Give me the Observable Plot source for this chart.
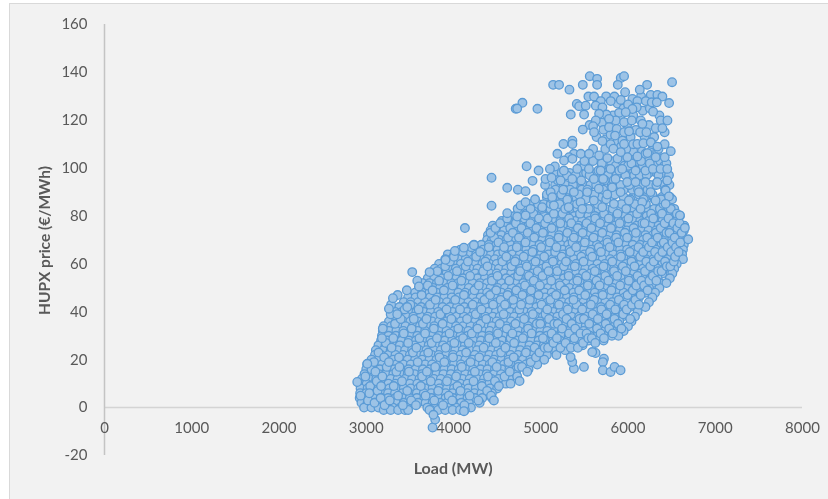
<!DOCTYPE html>
<html><head><meta charset="utf-8">
<script src="https://cdn.jsdelivr.net/npm/d3@7"></script>
<script src="https://cdn.jsdelivr.net/npm/@observablehq/plot@0.6"></script>
<style>
html,body{margin:0;padding:0;background:#fff;width:828px;height:499px;overflow:hidden}
#panel{position:absolute;left:9px;top:3px;width:819px;height:496px;background:#f2f2f2;border-left:1.5px solid #d9d9d9;border-top:1.5px solid #d9d9d9;box-sizing:border-box}
#chart{position:absolute;left:0;top:0}
svg{background:transparent!important;filter:blur(0.45px)}
</style></head><body><div id="panel"></div><div id="chart"></div>
<script>
const xTickValues=[0,1000,2000,3000,4000,5000,6000,7000,8000];
const yTickValues=[-20,0,20,40,60,80,100,120,140,160];

// Scattered outer points read one by one [load, price]
const outlierLoads=[5142,5210,5329,5482,5562,5646,5646,5917,5955,5883,6219,6135,6505,5967,5546,5611,5844,6261,6337,6394,5802,5917,6051,6108,6204,6272,6330,6471,5688,5413,5440,5516,5631,5707,6001,6100,6051,5344,5497,5753,5898,5974,6288,5669,5631,5860,5955,6043,6146,6375,6452,5783,5482,5600,5611,5718,5783,5871,5955,6012,6139,6211,6318,6394,6165,5852,5707,5260,5363,5363,5936,6108,6177,6261,6337,5833,5955,5191,5325,5459,5554,5669,5764,5993,6108,6223,6318,6421,6490,5917,5267,5363,4790,4713,4730,4962,4838,4975,5162,5105,5265,5418,5552,5686,5800,5934,6087,6285,6373,6450,4906,5055,5124,5227,5361,5464,5609,5716,5857,5991,6087,6201,6335,6450,4436,4616,4738,4826,5113,5258,5380,5533,5666,5819,5915,6125,6259,6431,5132,5304,5762,5456,5609,5839,6010,6163,6316,6469,4436,4769,4826,4883,5017,5151,5320,5476,5705,6144,6431,4616,4730,4826,3527,3726,3306,3260,4131,4234,3604,3909,4016,4119,6690,6652,6595,5380,5495,5361,5342,5628,5590,5724,5712,5712,5800,5846,5915,4654,4757,4463,3760,3790,3770,2897,2935,3012,4120];
const outlierPrices=[134.8,134.8,132.8,134.8,138.4,137.3,134.8,137.7,138.4,134.8,134.8,132.8,135.9,131.7,129.9,129.9,129.9,130.6,130.6,129.9,128,128.5,128.9,128,128,127.5,127.5,127.2,128,126.8,125.9,126.1,126.1,125.4,126.6,125.4,124.7,122.4,122.4,122.4,123.1,123.4,123.6,122.7,119.9,119.9,119.2,119.9,119.9,119.9,119.9,120.6,116.1,117.5,115,116,117.1,116.4,115,115.4,115,115,116.7,116.7,118.5,113.6,111.3,110.1,111.5,110.1,111.5,110.1,110.4,110.8,109,108.1,110.1,106,104.6,106,106,105.3,104.2,104.6,104.9,106.3,104.6,104.6,107.1,106.7,103.2,103.9,127.3,124.8,124.9,124.8,100.8,99,100.7,99.7,99,99.7,99.7,99,99.7,99.7,99,99.7,99.7,99.7,94.7,95.5,96,94.9,95.5,94.9,95.5,95.5,95.5,94.2,94.2,94.2,94.2,94.9,96,91.8,91,90.4,90,91,90,90,91.4,92,90,90,90,90.7,87.9,86.8,89,85.8,86.5,85.1,86.5,85.8,86.5,88.2,84.3,84.4,85.8,83,83.7,84.4,83.7,83,83.7,83,85.1,81.2,79.8,80.3,56.6,56.6,45.7,41.3,75,67.8,50.6,61.7,65.4,66.8,70.3,75.1,80.3,16.2,17,19,21.1,22.8,23.2,20.4,19,15.6,14.9,17,15.6,10,11.1,3,-8.3,-5,-3,10.7,5,18.3,-1.5];

// Dense body of the cloud, one list of loads for each price band
const bandPrices=[98,93,88,83,80,78,76,74,72,70,68,66,64,62,60,58,56,54,52,50,48,46,44,42,40,38,36,34,32,30,28,26,24,22,20,18,16,14,12,10,8,6,4,2,0,-1];
const bandLoads=[
[5150,5240,5330,5440,5520,5640,5740,5880,5960,6060,6130,6240,6330,6420],
[5050,5165,5280,5390,5500,5570,5680,5770,5890,6040,6150,6230,6300,6400,6475],
[5070,5180,5250,5370,5490,5580,5700,5810,5950,6060,6200,6290,6390,6480],
[4770,4830,4900,4975,5050,5110,5195,5270,5350,5420,5505,5590,5660,5745,5830,5905,5990,6060,6140,6225,6300,6380,6470,6530],
[4625,4700,4790,4880,4960,5035,5130,5205,5290,5385,5450,5545,5620,5710,5800,5870,5965,6040,6130,6215,6290,6385,6460,6540,6595],
[4555,4640,4720,4810,4885,4980,5060,5140,5225,5300,5395,5475,5560,5640,5725,5815,5890,5975,6065,6140,6235,6310,6395,6480,6550],
[4450,4535,4610,4690,4775,4860,4945,5020,5105,5190,5265,5350,5435,5515,5600,5680,5770,5850,5935,6010,6100,6185,6265,6350,6430,6520,6600,6645],
[4425,4490,4580,4660,4745,4825,4910,4995,5075,5155,5240,5325,5405,5490,5575,5655,5735,5820,5905,5985,6070,6150,6235,6320,6400,6485,6570,6640],
[4395,4470,4550,4635,4715,4800,4880,4965,5045,5130,5210,5295,5375,5460,5540,5625,5705,5790,5870,5955,6035,6120,6200,6285,6365,6450,6530,6620],
[4385,4440,4525,4605,4690,4770,4855,4935,5020,5100,5185,5265,5350,5430,5515,5595,5680,5760,5845,5925,6010,6090,6175,6255,6340,6420,6505,6590],
[4235,4320,4405,4490,4570,4655,4735,4820,4900,4985,5065,5150,5230,5315,5395,5480,5560,5645,5725,5810,5890,5975,6055,6140,6220,6305,6385,6470,6550,6640],
[4080,4170,4255,4340,4425,4505,4590,4670,4755,4835,4920,5000,5085,5165,5250,5330,5415,5495,5580,5660,5745,5825,5910,5990,6075,6155,6240,6320,6405,6485,6570,6630],
[3935,4010,4095,4180,4260,4345,4430,4510,4595,4675,4760,4840,4925,5005,5090,5170,5255,5335,5420,5500,5585,5665,5750,5830,5915,5995,6080,6160,6245,6325,6410,6490,6575,6620],
[3905,3975,4060,4140,4225,4310,4390,4475,4555,4640,4720,4805,4885,4970,5050,5135,5215,5300,5380,5465,5545,5630,5710,5795,5875,5960,6040,6125,6205,6290,6370,6455,6535,6630],
[3835,3915,4000,4085,4165,4250,4330,4415,4495,4580,4660,4745,4825,4910,4990,5075,5155,5240,5320,5405,5485,5570,5650,5735,5815,5900,5980,6065,6145,6230,6310,6395,6475,6558],
[3785,3860,3945,4025,4110,4190,4275,4355,4440,4520,4605,4685,4770,4850,4935,5015,5100,5180,5265,5345,5430,5510,5595,5675,5760,5840,5925,6005,6090,6170,6255,6335,6420,6530],
[3775,3835,3920,4000,4085,4165,4250,4330,4415,4495,4580,4660,4745,4825,4910,4990,5075,5155,5240,5320,5405,5485,5570,5650,5735,5815,5900,5980,6065,6145,6230,6310,6395,6508],
[3705,3780,3865,3945,4030,4110,4195,4275,4360,4440,4525,4605,4690,4770,4855,4935,5020,5100,5185,5265,5350,5430,5515,5595,5680,5760,5845,5925,6010,6090,6175,6255,6340,6480],
[3645,3725,3810,3890,3975,4055,4140,4220,4305,4385,4470,4550,4635,4715,4800,4880,4965,5045,5130,5210,5295,5375,5460,5540,5625,5705,5790,5870,5955,6035,6120,6200,6285,6365,6440],
[3605,3680,3765,3845,3930,4010,4095,4175,4260,4340,4425,4505,4590,4670,4755,4835,4920,5000,5085,5165,5250,5330,5415,5495,5580,5660,5745,5825,5910,5990,6075,6155,6240,6360],
[3560,3640,3725,3805,3890,3970,4055,4135,4220,4300,4385,4465,4550,4630,4715,4795,4880,4960,5045,5125,5210,5290,5375,5455,5540,5620,5705,5785,5870,5950,6035,6115,6200,6310],
[3480,3565,3650,3730,3815,3895,3980,4060,4145,4225,4310,4390,4475,4555,4640,4720,4805,4885,4970,5050,5135,5215,5300,5380,5465,5545,5630,5710,5795,5875,5960,6040,6125,6280],
[3430,3510,3595,3675,3760,3840,3925,4005,4090,4170,4255,4335,4420,4500,4585,4665,4750,4830,4915,4995,5080,5160,5245,5325,5410,5490,5575,5655,5740,5820,5905,5985,6070,6240],
[3380,3465,3545,3630,3710,3795,3875,3960,4040,4125,4205,4290,4370,4455,4535,4620,4700,4785,4865,4950,5030,5115,5195,5280,5360,5445,5525,5610,5690,5775,5855,5940,6020,6200],
[3330,3410,3495,3575,3660,3740,3825,3905,3990,4070,4155,4235,4320,4400,4485,4565,4650,4730,4815,4895,4980,5060,5145,5225,5310,5390,5475,5555,5640,5720,5805,5885,5970,6110],
[3300,3375,3460,3540,3625,3705,3790,3870,3955,4035,4120,4200,4285,4365,4450,4530,4615,4695,4780,4860,4945,5025,5110,5190,5275,5355,5440,5520,5605,5685,5770,5850,5935,6080],
[3260,3340,3425,3505,3590,3670,3755,3835,3920,4000,4085,4165,4250,4330,4415,4495,4580,4660,4745,4825,4910,4990,5075,5155,5240,5320,5405,5485,5570,5650,5735,5815,5900,6040],
[3200,3285,3370,3450,3535,3615,3700,3780,3865,3945,4030,4110,4195,4275,4360,4440,4525,4605,4690,4770,4855,4935,5020,5100,5185,5265,5350,5430,5515,5595,5680,5760,5845,6000],
[3190,3260,3345,3425,3510,3590,3675,3755,3840,3920,4005,4085,4170,4250,4335,4415,4500,4580,4665,4745,4830,4910,4995,5075,5160,5240,5325,5405,5490,5570,5655,5735,5820,5950],
[3180,3255,3340,3420,3505,3585,3670,3750,3835,3915,4000,4080,4165,4245,4330,4410,4495,4575,4660,4740,4825,4905,4990,5070,5155,5235,5320,5400,5485,5565,5650,5730,5815,5890],
[3170,3240,3325,3405,3490,3570,3655,3735,3820,3900,3985,4065,4150,4230,4315,4395,4480,4560,4645,4725,4810,4890,4975,5055,5140,5220,5305,5385,5470,5550,5640,5720],
[3140,3220,3305,3385,3470,3550,3635,3715,3800,3880,3965,4045,4130,4210,4295,4375,4460,4540,4625,4705,4790,4870,4955,5035,5120,5200,5285,5365,5480],
[3110,3195,3280,3360,3445,3525,3610,3690,3775,3855,3940,4020,4105,4185,4270,4350,4435,4515,4600,4680,4765,4845,4930,5010,5095,5175,5280],
[3100,3170,3255,3335,3420,3500,3585,3665,3750,3830,3915,3995,4080,4160,4245,4325,4410,4490,4575,4655,4740,4820,4905,4985,5070,5180],
[3060,3145,3230,3310,3395,3475,3560,3640,3725,3805,3890,3970,4055,4135,4220,4300,4385,4465,4550,4630,4715,4795,4880,4960,5040],
[3010,3095,3180,3260,3345,3425,3510,3590,3675,3755,3840,3920,4005,4085,4170,4250,4335,4415,4500,4580,4665,4745,4830,4960],
[3000,3070,3155,3235,3320,3400,3485,3565,3650,3730,3815,3895,3980,4060,4145,4225,4310,4390,4475,4555,4640,4720,4860],
[2980,3060,3145,3225,3310,3390,3475,3555,3640,3720,3805,3885,3970,4050,4135,4215,4300,4380,4465,4545,4630,4720],
[2950,3030,3115,3195,3280,3360,3445,3525,3610,3690,3775,3855,3940,4020,4105,4185,4270,4350,4435,4515,4640],
[2925,3005,3090,3170,3255,3335,3420,3500,3585,3665,3750,3830,3915,3995,4080,4160,4245,4325,4410,4490,4600],
[2935,3015,3100,3180,3265,3345,3430,3510,3595,3675,3760,3840,3925,4005,4090,4170,4255,4335,4420,4500],
[2930,3000,3085,3165,3250,3330,3415,3495,3580,3660,3745,3825,3910,3990,4075,4155,4240,4320,4440],
[2925,3000,3085,3170,3250,3335,3415,3500,3580,3665,3745,3830,3910,3995,4075,4160,4245,4330,4440],
[2945,3015,3100,3180,3265,3345,3430,3510,3595,3680,3760,3845,3925,4010,4090,4175,4300],
[2975,3060,3140,3225,3305,3390,3470,3700,3785,3865,3950,4030,4115,4200],
[3200,3280,3365,3445,3480,3740,3825,3905,3990,4075,4130]
];

// Loose points over the body and the upper fringe: load, price, load, price ...
const loosePairs=[
3020,3,3045,9,2990,13,3060,16,3035,6,3095,2,3120,11,3088,19,3130,7,3140,23,3105,15,3165,4,3210,1,3185,13,3225,27,3190,33,3205,21,3170,9,3235,17,
3270,3,3315,9,3290,25,3330,35,3280,39,3345,15,3260,19,3310,29,3285,43,3365,5,3420,1,3375,21,3410,11,3430,31,3395,37,3380,17,3440,41,3360,47,
3470,7,3515,3,3490,15,3535,23,3480,27,3520,33,3505,43,3465,49,3545,37,3570,1,3625,9,3590,19,3640,13,3610,29,3575,25,3650,35,3600,41,3635,47,3585,53,
3680,5,3725,-1,3695,15,3740,11,3710,23,3675,31,3750,27,3690,37,3730,43,3705,51,3760,49,3780,3,3825,7,3790,17,3840,21,3810,29,3775,33,3850,39,3795,45,3835,53,3815,57,
3880,1,3925,11,3895,19,3945,5,3910,25,3875,35,3955,31,3920,41,3890,49,3940,55,3905,59,3960,61,3985,3,4030,13,3995,21,4045,9,4010,27,3975,37,4055,33,4020,45,3990,51,4040,57,4005,63,
4080,7,4125,1,4095,17,4145,23,4110,29,4075,41,4155,37,4120,47,4090,53,4140,59,4105,65,4165,61,4185,5,4230,11,4195,19,4245,15,4210,31,4175,27,4255,39,4220,43,4190,55,4240,49,4205,67,4260,63,
4285,3,4325,9,4295,21,4345,25,4310,35,4275,33,4355,45,4320,41,4290,51,4340,57,4305,65,4365,61,4385,7,4430,5,4395,13,4445,19,4410,29,4375,37,4455,43,4420,47,4390,59,4440,53,4405,67,4465,71,4425,73,
4475,11,4520,9,4495,17,4545,23,4510,31,4485,27,4555,41,4530,35,4490,49,4540,45,4505,55,4560,61,4515,69,4570,65,4480,75,4535,77,4585,13,4630,19,4595,25,4645,15,4610,33,4575,39,4655,29,4620,47,4590,43,4640,53,4605,63,4665,59,4625,71,4580,67,4650,75,4615,79,
4690,21,4730,13,4695,27,4745,17,4710,35,4675,31,4755,41,4720,49,4685,45,4740,55,4705,61,4765,57,4725,67,4680,73,4750,71,4715,77,4770,81,4735,83,
4785,17,4830,23,4795,29,4845,15,4810,37,4775,43,4855,33,4820,51,4790,47,4840,59,4805,63,4865,55,4825,69,4780,75,4850,73,4815,79,4870,85,4835,81,
4885,19,4930,25,4895,31,4945,21,4910,39,4875,45,4955,35,4920,53,4890,49,4940,61,4905,65,4965,57,4925,71,4880,77,4950,75,4915,81,4970,85,4935,87,
4985,23,5025,29,4995,35,5045,25,5010,43,4975,47,5055,39,5020,55,4990,51,5040,63,5005,67,5065,59,5025,73,4980,79,5050,77,5015,83,5070,89,5035,85,
5085,25,5125,31,5095,37,5145,27,5110,45,5075,41,5155,35,5120,53,5090,57,5140,61,5105,69,5165,65,5125,75,5080,79,5150,81,5115,85,5170,91,5135,87,
5185,29,5225,25,5195,35,5245,33,5210,43,5175,47,5255,39,5220,51,5190,57,5240,63,5205,71,5265,59,5225,77,5180,67,5250,81,5215,85,5270,91,5235,89,5195,95,
5285,27,5325,31,5295,37,5345,25,5310,41,5275,49,5355,35,5320,55,5290,61,5340,65,5305,73,5365,69,5325,79,5280,83,5350,77,5315,87,5370,93,5335,91,5300,97,
5385,29,5425,25,5395,33,5445,37,5410,43,5375,45,5455,31,5420,53,5390,59,5440,49,5405,67,5465,63,5425,75,5380,71,5450,81,5415,85,5470,91,5435,89,5400,97,5460,101,
5485,27,5525,31,5495,37,5545,29,5510,47,5475,41,5555,35,5520,55,5490,61,5540,51,5505,69,5565,65,5525,77,5480,73,5550,83,5515,87,5570,93,5535,91,5500,101,5560,97,
5585,29,5625,27,5595,39,5645,33,5610,45,5575,43,5655,37,5620,57,5590,63,5640,53,5605,71,5665,67,5625,79,5580,75,5650,85,5615,89,5670,95,5635,93,5600,103,5660,99,
5685,31,5725,29,5695,41,5745,35,5710,47,5675,51,5755,39,5720,59,5690,65,5740,55,5705,73,5765,69,5725,81,5680,77,5750,87,5715,91,5770,97,5735,95,5700,101,5760,103,
5785,33,5825,31,5795,43,5845,37,5810,49,5775,53,5855,41,5820,61,5790,67,5840,57,5805,75,5865,71,5825,83,5780,79,5850,89,5815,93,5870,97,5835,95,5800,103,5860,101,
5885,35,5925,33,5895,45,5945,39,5910,51,5875,55,5955,43,5920,63,5890,69,5940,59,5905,77,5965,73,5925,85,5880,81,5950,91,5915,93,5970,97,5935,103,5900,99,5960,101,
5985,41,6025,37,5995,47,6045,43,6010,53,5975,57,6055,49,6020,65,5990,71,6040,61,6005,79,6065,75,6025,87,5980,83,6050,91,6015,93,6070,97,6035,103,6000,101,6060,107,
6085,45,6125,43,6095,51,6145,47,6110,55,6075,59,6155,53,6120,67,6090,73,6140,63,6105,81,6165,77,6125,89,6080,85,6150,93,6115,91,6170,101,6135,97,6100,103,6160,107,
6185,51,6225,49,6195,57,6245,53,6210,61,6175,65,6255,59,6220,71,6190,77,6240,67,6205,85,6265,81,6225,91,6180,87,6250,93,6215,97,6270,101,6235,103,6200,99,6260,107,
6285,55,6325,53,6295,61,6345,57,6310,65,6275,69,6355,63,6320,73,6290,79,6340,71,6305,87,6365,83,6325,93,6280,89,6350,97,6315,101,6370,103,6335,107,
6385,57,6425,61,6395,65,6445,59,6410,69,6375,75,6455,67,6420,77,6390,81,6440,73,6405,85,6465,79,6425,91,6380,87,6450,95,6415,101,6470,97,
6485,59,6525,61,6495,65,6540,63,6510,69,6475,73,6550,67,6520,77,6490,83,6535,71,6505,87,6565,75,6580,65,6600,69,6615,73,6590,77,6560,81,
5560,118,5640,113,5700,119,5740,112,5800,114,5830,122,5880,111,5910,121,5990,118,6030,113,6060,122,6090,116,6170,124,6190,113,6240,118,6300,113,6360,122,6420,115,6250,125,
5600,108,5700,102,5740,108,5800,110,5880,104,5920,109,5980,108,6040,102,6060,110,6150,103,6200,106,6250,102,6280,110,6350,108,6420,110,6440,102,5380,106,5500,103,
5650,128,5750,130,5880,127,5950,125,6150,130,3355,39,3470,42,3180,29
];

const points=[];
bandPrices.forEach((p,i)=>bandLoads[i].forEach(l=>points.push({load:l,price:p})));
for(let i=0;i<loosePairs.length;i+=2)points.push({load:loosePairs[i],price:loosePairs[i+1]});
outlierLoads.forEach((l,i)=>points.push({load:l,price:outlierPrices[i]}));

const fontFamily="Lato, 'Liberation Sans', sans-serif";
const chart=Plot.plot({
  width:828,height:499,
  marginLeft:104,marginRight:26,marginTop:24,marginBottom:44,
  style:{fontFamily,background:"transparent"},
  x:{domain:[0,8000],axis:null},
  y:{domain:[-20,160],axis:null},
  marks:[
    Plot.ruleY([0],{x1:0,x2:8000,stroke:"#d4d4d4",strokeWidth:1.5}),
    Plot.ruleX([0],{y1:-20,y2:160,stroke:"#c4c4c4",strokeWidth:1.5}),
    Plot.text(xTickValues,{x:d=>d,y:()=>0,dy:21,text:d=>String(d),fontSize:15,fill:"#595959"}),
    Plot.text(yTickValues,{x:()=>0,y:d=>d,dx:-17,text:d=>String(d),textAnchor:"end",fontSize:15,fill:"#595959"}),
    Plot.dot(points,{x:"load",y:"price",r:4.3,fill:"#9dc3e6",stroke:"#5b9bd5",strokeWidth:1.3}),
    Plot.text(["Load (MW)"],{x:()=>3996,y:()=>-25.4,text:d=>d,fontSize:16,fontWeight:"bold",fill:"#595959"}),
    Plot.text(["HUPX price (€/MWh)"],{x:()=>-677,y:()=>69.8,text:d=>d,rotate:-90,fontSize:15.5,fontWeight:"bold",fill:"#595959"})
  ]
});
document.getElementById("chart").appendChild(chart);
</script></body></html>
